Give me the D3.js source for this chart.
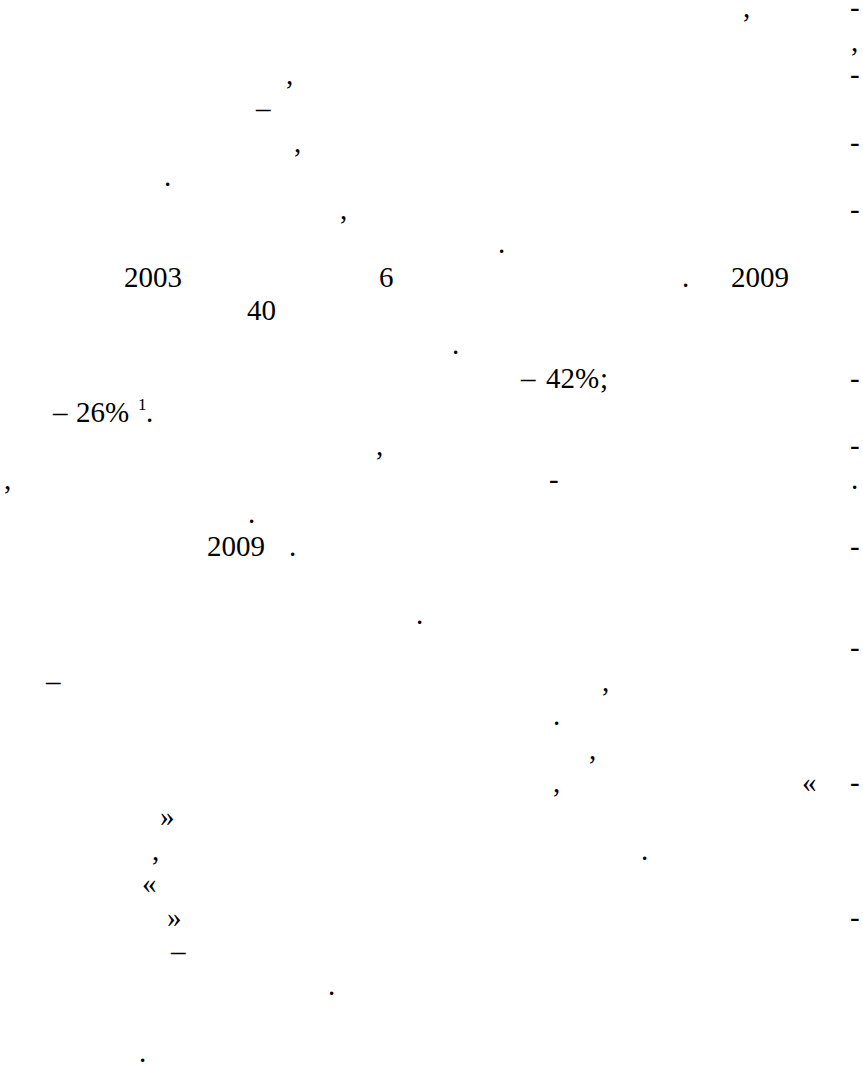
<!DOCTYPE html>
<html><head><meta charset="utf-8">
<script src="https://cdn.jsdelivr.net/npm/d3@7"></script>
<style>html,body{margin:0;padding:0;background:#fff;}svg{display:block;}</style>
</head><body>
<svg id="page"></svg>
<script>
// Visible glyphs of the page (letters of the text are not rendered in the reference)
const glyphs  = [",","-",",",",","-","–",",","-",".",",","-",".","2003","6",".","2009","40",".","–","42%",";","-","–","26%",".",",","-",",","-",".",".","2009",".","-",".","-","–",",",".",",",",","«","-","»",",",".","«","»","-","–",".","."];
// text line on which each glyph sits (0 = first line of the page)
const lineNo  = [0,0,1,2,2,3,4,4,5,6,6,7,8,8,8,8,9,10,11,11,11,11,12,12,12,13,13,14,14,14,15,16,16,16,18,19,20,20,21,22,23,23,23,24,25,25,26,27,27,28,29,31];
// horizontal position along the line
const colPos  = [743,850,851,286,850,256,294,850,164,340,850,498,124,379,682,731,247,452,521,546,600,850,53,76,146,376,850,4,549,851,248,207,289,850,416,850,46,602,553,589,553,802,850,160,152,641,142,167,850,171,328,139];
// footnote superscript attached to "26%"
const footnote = {text: "1", line: 12, col: 138};

const W = 863, H = 1066, LINES = 31;
const x = d3.scaleLinear().domain([0, W]).range([0, W]);
const y = d3.scaleLinear().domain([0, LINES]).range([17, 1062]);

const svg = d3.select("#page").attr("width", W).attr("height", H);
svg.append("rect").attr("width", W).attr("height", H).attr("fill", "#fff");

const data = glyphs.map((t, i) => ({t, line: lineNo[i], col: colPos[i]}));
const g = svg.append("g")
  .attr("font-family", "'Liberation Serif','Times New Roman',serif")
  .attr("font-size", 29)
  .attr("fill", "#000");

g.selectAll("text.glyph").data(data).join("text")
  .attr("class", "glyph")
  .attr("x", d => x(d.col)).attr("y", d => y(d.line))
  .text(d => d.t);

g.append("text")
  .attr("x", x(footnote.col)).attr("y", y(footnote.line) - 12)
  .attr("font-size", 17)
  .text(footnote.text);
</script>
</body></html>
